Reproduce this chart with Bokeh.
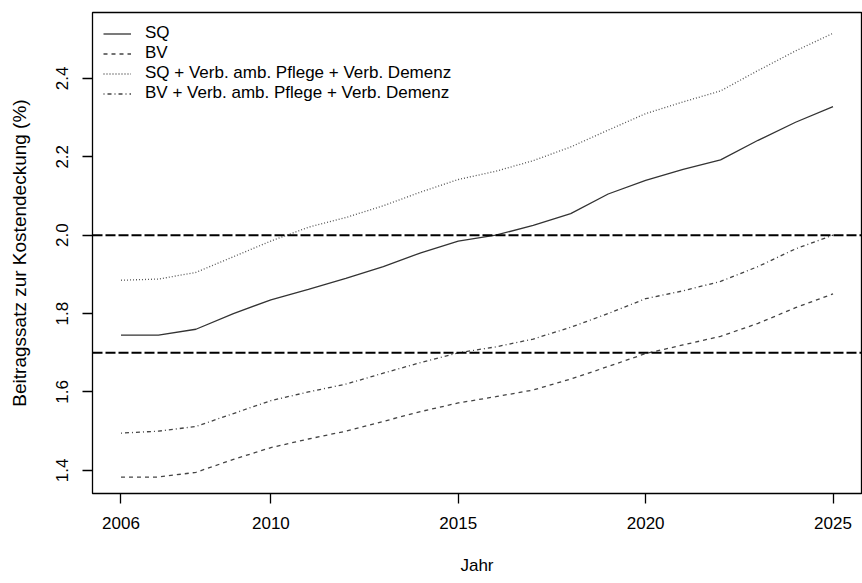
from bokeh.plotting import figure
from bokeh.models import FixedTicker, PrintfTickFormatter, Span, Range1d, Legend, LegendItem
from bokeh.embed import file_html
from bokeh.resources import INLINE

years = list(range(2006, 2026))
sq = [1.745, 1.745, 1.76, 1.80, 1.835, 1.862, 1.89, 1.92, 1.955, 1.985,
      2.0, 2.025, 2.055, 2.105, 2.14, 2.168, 2.192, 2.242, 2.288, 2.328]
bv = [1.383, 1.383, 1.395, 1.428, 1.458, 1.48, 1.50, 1.525, 1.55, 1.572,
      1.588, 1.605, 1.633, 1.665, 1.698, 1.72, 1.742, 1.775, 1.815, 1.85]
sq_plus = [1.885, 1.888, 1.905, 1.945, 1.985, 2.02, 2.045, 2.075, 2.11, 2.142,
           2.163, 2.19, 2.225, 2.268, 2.31, 2.34, 2.368, 2.42, 2.47, 2.515]
bv_plus = [1.495, 1.50, 1.512, 1.545, 1.578, 1.60, 1.62, 1.648, 1.675, 1.70,
           1.715, 1.735, 1.765, 1.80, 1.838, 1.858, 1.882, 1.92, 1.965, 2.0]
labels = ["SQ", "BV", "SQ + Verb. amb. Pflege + Verb. Demenz",
          "BV + Verb. amb. Pflege + Verb. Demenz"]
thresholds = [2.0, 1.7]
x_ticks = [2006, 2010, 2015, 2020, 2025]
y_ticks = [1.4, 1.6, 1.8, 2.0, 2.2, 2.4]

FONT = "Liberation Sans"

p = figure(width=862, height=580, output_backend="svg", toolbar_location=None,
           x_range=Range1d(2005.24, 2025.76), y_range=Range1d(1.341, 2.568))
p.min_border_left = 92
p.min_border_top = 12
p.min_border_right = 1
p.min_border_bottom = 87
p.grid.visible = False
p.outline_line_color = "black"
p.outline_line_width = 1.3
p.background_fill_color = "white"
p.border_fill_color = "white"

for ax in (p.xaxis[0], p.yaxis[0]):
    ax.axis_line_color = None
    ax.major_tick_out = 10
    ax.major_tick_in = 0
    ax.minor_tick_line_color = None
    ax.major_tick_line_color = "black"
    ax.major_tick_line_width = 1.3
    ax.major_label_text_font = FONT
    ax.major_label_text_font_size = "17px"
    ax.major_label_text_color = "black"
    ax.axis_label_text_font = FONT
    ax.axis_label_text_font_style = "normal"
    ax.axis_label_text_color = "black"

p.xaxis.axis_label_text_font_size = "17px"
p.yaxis.axis_label_text_font_size = "19px"
p.xaxis.ticker = FixedTicker(ticks=x_ticks)
p.yaxis.ticker = FixedTicker(ticks=y_ticks)
p.yaxis.formatter = PrintfTickFormatter(format="%.1f")
p.xaxis.axis_label = "Jahr"
p.yaxis.axis_label = "Beitragssatz zur Kostendeckung (%)"
p.xaxis.major_label_standoff = 13
p.xaxis.axis_label_standoff = 24
p.yaxis.major_label_standoff = 14
p.yaxis.axis_label_standoff = 24
p.yaxis.major_label_orientation = "vertical"

for t in thresholds:
    p.add_layout(Span(location=t, dimension="width", line_color="black",
                      line_width=2, line_dash="10 3"))

series = [sq, bv, sq_plus, bv_plus]
dashes = ["solid", "4 4", "1 2", "1 3 4 3"]
colors = ["#333333", "#444444", "#555555", "#444444"]
items = []
for vals, lab, d, c in zip(series, labels, dashes, colors):
    r = p.line(years, vals, line_color=c, line_width=1.3, line_dash=d)
    items.append(LegendItem(label=lab, renderers=[r]))

legend = Legend(items=items, location="top_left")
legend.border_line_color = None
legend.background_fill_alpha = 0
legend.label_text_font = FONT
legend.label_text_font_size = "17px"
legend.label_text_color = "black"
legend.glyph_width = 28
legend.glyph_height = 15
legend.label_height = 15
legend.spacing = -4
legend.padding = 0
legend.margin = 11
legend.label_standoff = 14
p.add_layout(legend)

open("out.html", "w").write(file_html(p, INLINE))
